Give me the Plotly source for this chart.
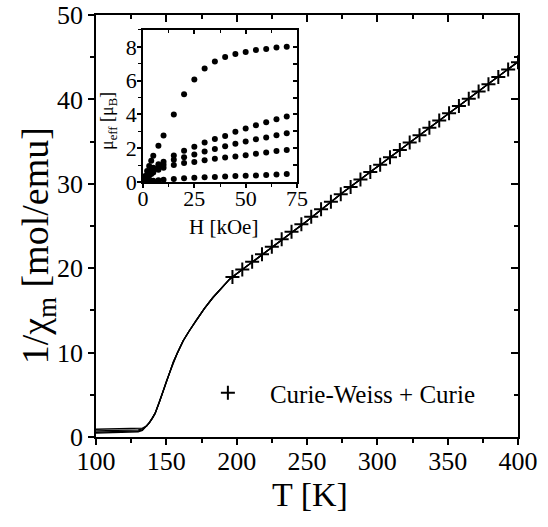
import plotly.graph_objects as go

# ---------------- data ----------------
# main panel: 1/chi_m vs T (several nearly coincident measured curves)
T_low = [100, 110, 120, 126, 130, 133]
y_low_a = [0.92, 0.94, 0.96, 0.98, 1.00, 1.05]
y_low_b = [0.72, 0.74, 0.77, 0.80, 0.85, 0.95]
y_low_c = [0.56, 0.59, 0.62, 0.66, 0.72, 0.85]
y_low_d = [0.45, 0.48, 0.52, 0.56, 0.62, 0.78]

T_high = [136, 138, 140, 142, 145, 148, 150, 152, 155, 158, 162, 166, 171, 177,
          183, 189, 195, 200, 225, 250, 275, 300, 325, 350, 375, 400]
y_high = [1.3, 1.7, 2.2, 2.8, 4.1, 5.6, 6.6, 7.5, 8.9, 10.0, 11.4, 12.5, 13.8, 15.2,
          16.5, 17.6, 18.7, 19.33, 22.5, 25.6, 28.9, 32.0, 35.1, 38.2, 41.3, 44.45]

# Curie-Weiss + Curie fit points
T_fit = [197, 204, 211, 218, 225, 232, 239, 246, 253, 260, 267, 274, 281, 288, 295,
         302, 309, 316, 323, 330, 337, 344, 351, 358, 365, 372, 379, 386, 393, 400]
y_fit = [18.95, 19.85, 20.75, 21.64, 22.53, 23.43, 24.32, 25.21, 26.10, 26.99,
         27.88, 28.76, 29.63, 30.51, 31.39, 32.27, 33.14, 34.01, 34.89, 35.76,
         36.63, 37.49, 38.36, 39.22, 40.08, 40.94, 41.80, 42.66, 43.53, 44.41]

# inset: mu_eff vs H
H = [0.5, 1, 2, 3, 4, 5, 7.5, 10, 15, 20, 25, 30, 35, 40, 45, 50, 55, 60, 65, 70]
mu_1 = [0.2, 0.35, 0.65, 0.95, 1.25, 1.55, 2.15, 2.75, 4.0, 5.2, 6.07, 6.72, 7.13,
        7.4, 7.58, 7.7, 7.82, 7.88, 7.96, 8.0]
mu_2 = [0.1, 0.2, 0.4, 0.55, 0.7, 0.85, 1.05, 1.2, 1.57, 1.85, 2.08, 2.34, 2.55,
        2.73, 2.97, 3.16, 3.36, 3.54, 3.71, 3.87]
mu_3 = [0.08, 0.17, 0.33, 0.47, 0.6, 0.72, 0.9, 1.02, 1.32, 1.47, 1.63, 1.81, 1.96,
        2.12, 2.26, 2.4, 2.53, 2.63, 2.77, 2.89]
mu_4 = [0.06, 0.13, 0.26, 0.37, 0.47, 0.56, 0.72, 0.85, 1.0, 1.12, 1.18, 1.28, 1.38,
        1.45, 1.51, 1.59, 1.67, 1.75, 1.83, 1.9]
mu_5 = [0.01, 0.02, 0.04, 0.05, 0.06, 0.07, 0.1, 0.13, 0.18, 0.22, 0.25, 0.28, 0.3,
        0.32, 0.35, 0.37, 0.39, 0.41, 0.44, 0.48]

FONT = "Liberation Serif"

fig = go.Figure()

for ylow in [y_low_a, y_low_b, y_low_c, y_low_d]:
    fig.add_trace(go.Scatter(x=T_low + T_high, y=ylow + y_high, mode="lines",
                             line=dict(color="black", width=1.3),
                             showlegend=False, hoverinfo="skip"))

fig.add_trace(go.Scatter(x=T_fit, y=y_fit, mode="markers", name="Curie-Weiss + Curie",
                         marker=dict(symbol="cross-thin", size=10, color="black",
                                     line=dict(color="black", width=2))))

for mu in [mu_1, mu_2, mu_3, mu_4, mu_5]:
    fig.add_trace(go.Scatter(x=H, y=mu, mode="markers", xaxis="x2", yaxis="y2",
                             marker=dict(symbol="circle", size=6, color="black"),
                             showlegend=False))

# helper empty traces so the mirrored tick axes are drawn
fig.add_trace(go.Scatter(x=[], y=[], xaxis="x3", yaxis="y3", showlegend=False))
fig.add_trace(go.Scatter(x=[], y=[], xaxis="x4", yaxis="y4", showlegend=False))

ax_common = dict(showgrid=False, zeroline=False, showline=True, linecolor="black",
                 linewidth=1.5, tickcolor="black", tickwidth=1.5, automargin=False)

ix0, ix1 = 0.1114, 0.4763
iy0, iy1 = 0.6043, 0.9645

fig.update_layout(
    width=548, height=527,
    margin=dict(l=96, r=30, t=15, b=90, autoexpand=False),
    paper_bgcolor="white", plot_bgcolor="white",
    font=dict(family=FONT, color="black"),
    xaxis=dict(range=[100, 400], domain=[0, 1], anchor="y", dtick=50, ticks="outside",
               ticklen=6, ticklabelstandoff=-6,
               minor=dict(dtick=25, ticks="outside", ticklen=4,
                          tickcolor="black", tickwidth=1.5),
               tickfont=dict(size=26, family=FONT), **ax_common),
    yaxis=dict(range=[0, 50], domain=[0, 1], anchor="x", dtick=10, ticks="outside",
               ticklen=6, minor=dict(dtick=5, ticks="outside", ticklen=4,
                                     tickcolor="black", tickwidth=1.5),
               tickfont=dict(size=26, family=FONT), **ax_common),
    xaxis3=dict(range=[100, 400], overlaying="x", side="top", anchor="y3", dtick=50,
                ticks="inside", ticklen=7, showticklabels=False,
                minor=dict(dtick=25, ticks="inside", ticklen=4, tickcolor="black",
                           tickwidth=1.5),
                **ax_common),
    yaxis3=dict(range=[0, 50], overlaying="y", side="right", anchor="x3", dtick=10,
                ticks="inside", ticklen=7, showticklabels=False,
                minor=dict(dtick=5, ticks="inside", ticklen=4, tickcolor="black",
                           tickwidth=1.5),
                **ax_common),
    xaxis2=dict(range=[0, 75], domain=[ix0, ix1], anchor="y2", dtick=25, ticks="outside",
                ticklen=4, ticklabelstandoff=-8,
                minor=dict(dtick=12.5, ticks="outside", ticklen=3,
                           tickcolor="black", tickwidth=1.2),
                tickfont=dict(size=22, family=FONT), **ax_common),
    yaxis2=dict(range=[0, 9], domain=[iy0, iy1], anchor="x2", dtick=2, ticks="outside",
                ticklen=4, ticklabelstandoff=-4,
                minor=dict(dtick=1, ticks="outside", ticklen=3,
                           tickcolor="black", tickwidth=1.2),
                tickfont=dict(size=22, family=FONT), **ax_common),
    xaxis4=dict(range=[0, 75], overlaying="x2", side="top", anchor="y4", dtick=25,
                ticks="inside", ticklen=4, showticklabels=False,
                minor=dict(dtick=12.5, ticks="inside", ticklen=3, tickcolor="black",
                           tickwidth=1.2),
                **ax_common),
    yaxis4=dict(range=[0, 9], overlaying="y2", side="right", anchor="x4", dtick=1,
                ticks="inside", ticklen=4, showticklabels=False, **ax_common),
    legend=dict(x=0.213, y=0.104, xanchor="left", yanchor="middle",
                bgcolor="rgba(0,0,0,0)", itemwidth=74,
                font=dict(size=25, family=FONT)),
    showlegend=True,
    annotations=[
        dict(text="1/χ<sub>m</sub> [mol/emu]", xref="paper", yref="paper",
             x=-0.137, y=0.4526, xanchor="center", yanchor="middle",
             textangle=-90, showarrow=False,
             font=dict(size=38, family=FONT, color="black")),
        dict(text="T [K]", xref="paper", yref="paper", x=0.507, y=-0.1374,
             xanchor="center", yanchor="middle", showarrow=False,
             font=dict(size=34, family=FONT, color="black")),
        dict(text="H [kOe]", xref="paper", yref="paper", x=0.301, y=0.4976,
             xanchor="center", yanchor="middle", showarrow=False,
             font=dict(size=21, family=FONT, color="black")),
        dict(text="μ<sub>eff</sub> [μ<sub>B</sub>]", xref="paper", yref="paper",
             x=0.0308, y=0.749, xanchor="center", yanchor="middle", textangle=-90,
             showarrow=False, font=dict(size=18, family=FONT, color="black")),
    ],
)

fig.write_html("out.html")
